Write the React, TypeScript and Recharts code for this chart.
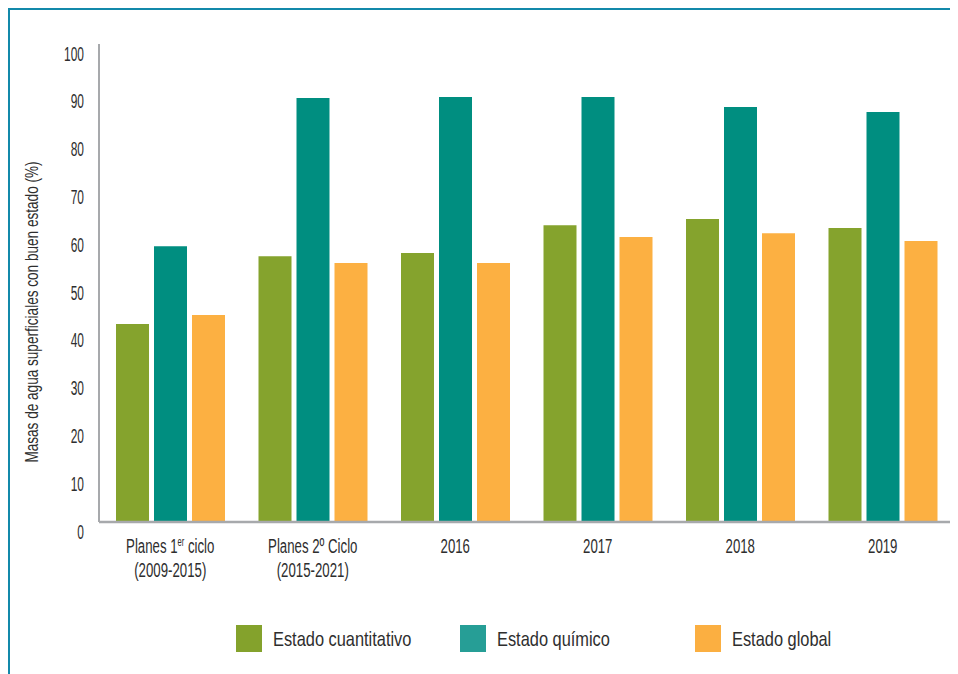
import React from 'react';
import { BarChart, Bar, XAxis, YAxis, Legend } from 'recharts';

// categories (^ marks a superscript part)
const categories = ['Planes 1^er ciclo|(2009-2015)', 'Planes 2º Ciclo|(2015-2021)', '2016', '2017', '2018', '2019'];
const cuantitativo = [41.4, 55.6, 56.3, 62.1, 63.4, 61.5];
const quimico = [57.7, 88.7, 88.9, 88.9, 86.8, 85.8];
const globalState = [43.3, 54.2, 54.2, 59.6, 60.4, 58.8];
const yTicks = [0, 10, 20, 30, 40, 50, 60, 70, 80, 90, 100];

const seriesNames = ['Estado cuantitativo', 'Estado químico', 'Estado global'];
const barColors = ['#85a32d', '#008e80', '#fcb042'];
const legendColors = ['#84a22c', '#269e96', '#fbaf41'];
const legendLeft = [226, 450, 685];

const data = categories.map((name, i) => ({
  name,
  cuantitativo: cuantitativo[i],
  quimico: quimico[i],
  global: globalState[i],
}));

// condensed look: Liberation Sans squeezed horizontally
const FONT = '"Liberation Sans", Arial, sans-serif';
const TEXT = '#2e2e2e';
const AXIS = '#a7a9ac';

const renderLine = (line: string) => {
  const parts = line.split(/(\^[a-z]+)/);
  return parts.map((p, i) =>
    p.startsWith('^') ? (
      <tspan key={i} fontSize={12} dy={-7}>{p.slice(1)}</tspan>
    ) : (
      <tspan key={i} dy={i > 0 ? 7 : 0}>{p}</tspan>
    )
  );
};

const XTick = (props: any) => {
  const { x, y, payload } = props;
  const lines = String(payload.value).split('|');
  return (
    <g>
      {lines.map((l, i) => (
        <text key={i} x={0} y={0} dy="0.36em" textAnchor="middle"
          transform={`translate(${x} ${y + 31 + i * 24}) scale(0.63 1)`}
          fontFamily={FONT} fontSize={21} fill={TEXT}>
          {renderLine(l)}
        </text>
      ))}
    </g>
  );
};

const YTick = (props: any) => {
  const { x, y, payload } = props;
  return (
    <text x={0} y={0} dy="0.36em" textAnchor="end" transform={`translate(${x - 15} ${y + 9}) scale(0.57 1)`}
      fontFamily={FONT} fontSize={21} fill={TEXT}>
      {payload.value}
    </text>
  );
};

const YLabel = (props: any) => {
  const { viewBox } = props;
  const cx = viewBox.x + 22;
  const cy = viewBox.y + viewBox.height / 2 + 29;
  return (
    <text x={0} y={0} dy="0.36em" textAnchor="middle" transform={`translate(${cx} ${cy}) rotate(-90) scale(0.755 1)`}
      fontFamily={FONT} fontSize={18} fill={TEXT}>
      Masas de agua superficiales con buen estado (%)
    </text>
  );
};

const renderLegend = () => (
  <div style={{ position: 'relative', width: 948, height: 40 }}>
    {seriesNames.map((n, i) => (
      <div key={n} style={{ position: 'absolute', left: legendLeft[i], top: 0, display: 'flex', alignItems: 'center', height: 27 }}>
        <div style={{ width: 26, height: 27, background: legendColors[i], flexShrink: 0 }} />
        <span style={{ marginLeft: 11, fontFamily: FONT, fontSize: 21, color: TEXT, whiteSpace: 'nowrap',
          display: 'inline-block', transform: 'scaleX(0.78)', transformOrigin: 'left center' }}>{n}</span>
      </div>
    ))}
  </div>
);

export default function App() {
  return (
    <div style={{ width: 950, height: 666, borderTop: '2px solid #1389aa', borderLeft: '2px solid #1389aa', boxSizing: 'border-box' }}>
      <BarChart width={948} height={664} data={data} margin={{ top: 34, right: 4, left: 0, bottom: 32 }}
        barSize={33} barGap={5}>
        <XAxis dataKey="name" height={80} tick={<XTick />} tickLine={false} tickSize={0} tickMargin={0}
          interval={0} axisLine={{ stroke: AXIS, strokeWidth: 2.5 }} />
        <YAxis width={89} domain={[0, 100]} ticks={yTicks} tick={<YTick />} tickLine={false} tickSize={0} tickMargin={0}
          axisLine={{ stroke: AXIS, strokeWidth: 2 }} label={<YLabel />} />
        <Legend content={renderLegend} wrapperStyle={{ top: 615, left: 0 }} />
        <Bar dataKey="cuantitativo" name={seriesNames[0]} fill={barColors[0]} isAnimationActive={false} />
        <Bar dataKey="quimico" name={seriesNames[1]} fill={barColors[1]} isAnimationActive={false} />
        <Bar dataKey="global" name={seriesNames[2]} fill={barColors[2]} isAnimationActive={false} />
      </BarChart>
    </div>
  );
}
